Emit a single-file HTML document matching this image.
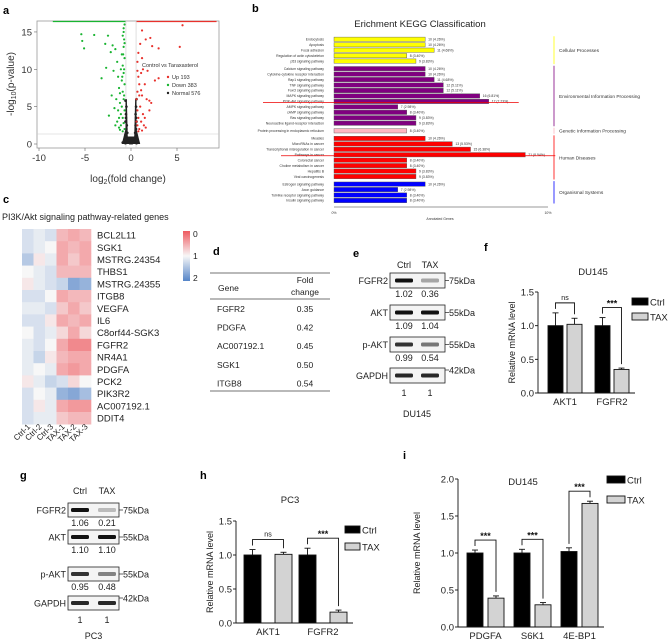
<!DOCTYPE html>
<html><head><meta charset="utf-8">
<style>
html,body{margin:0;padding:0;background:#fff}
svg{display:block;font-family:"Liberation Sans",Arial,sans-serif}
</style></head>
<body>
<svg id="fig" width="668" height="642" viewBox="0 0 668 642" xmlns="http://www.w3.org/2000/svg">
<g id="pa">
<text x="3" y="14" font-size="11" font-weight="bold">a</text>
<rect x="37" y="21" width="182" height="127" fill="none" stroke="#999" stroke-width="0.8"/>
<text transform="translate(14,84) rotate(-90)" text-anchor="middle" font-size="10" fill="#333">-log<tspan font-size="7" dy="2">10</tspan><tspan dy="-2">(p-value)</tspan></text>
<text x="128" y="182" text-anchor="middle" font-size="10" fill="#333">log<tspan font-size="7" dy="2">2</tspan><tspan dy="-2">(fold change)</tspan></text>
<text x="142" y="67" font-size="5.5" fill="#333">Control vs Taraxasterol</text>
<circle cx="168" cy="77" r="1.2" fill="#e8312c"/>
<text x="172" y="79" font-size="5.5" fill="#333">Up 193</text>
<circle cx="168" cy="85" r="1.2" fill="#19b431"/>
<text x="172" y="87" font-size="5.5" fill="#333">Down 383</text>
<circle cx="168" cy="93" r="1.2" fill="#222"/>
<text x="172" y="95" font-size="5.5" fill="#333">Normal 576</text>
</g>
<g id="pb">
<text x="252" y="12" font-size="11" font-weight="bold">b</text>
<text x="420" y="27" text-anchor="middle" font-size="9.5" fill="#222">Erichment KEGG Classification</text>
<text x="440" y="220" text-anchor="middle" font-size="3.5" fill="#333">Annotated Genes</text>
</g>
<g id="pc">
<text x="3" y="203" font-size="11" font-weight="bold">c</text>
<text x="2" y="220" font-size="9" fill="#222">PI3K/Akt signaling pathway-related genes</text>
<defs><linearGradient id="cbg" x1="0" y1="0" x2="0" y2="1"><stop offset="0" stop-color="#ee5a60"/><stop offset="0.5" stop-color="#f7f7f7"/><stop offset="1" stop-color="#5585c8"/></linearGradient></defs>
<rect x="183" y="231" width="7" height="50" fill="url(#cbg)"/>
<text x="193" y="237" font-size="8.5" fill="#222">0</text>
<text x="193" y="259" font-size="8.5" fill="#222">1</text>
<text x="193" y="281" font-size="8.5" fill="#222">2</text>
</g>
<g id="pd">
<text x="213" y="255" font-size="11" font-weight="bold">d</text>
<line x1="210" y1="273" x2="330" y2="273" stroke="#444" stroke-width="0.8"/>
<line x1="210" y1="299" x2="330" y2="299" stroke="#444" stroke-width="0.8"/>
<line x1="210" y1="391" x2="330" y2="391" stroke="#444" stroke-width="0.8"/>
<text x="218" y="291" font-size="8.5" fill="#222">Gene</text>
<text x="305" y="283" text-anchor="middle" font-size="8.5" fill="#222">Fold</text>
<text x="305" y="295" text-anchor="middle" font-size="8.5" fill="#222">change</text>
</g>
<g id="pe"><text x="353" y="257" font-size="11" font-weight="bold">e</text></g>
<g id="pf"><text x="484" y="251" font-size="11" font-weight="bold">f</text></g>
<g id="pg"><text x="20" y="479" font-size="11" font-weight="bold">g</text></g>
<g id="ph"><text x="200" y="479" font-size="11" font-weight="bold">h</text></g>
<g id="pi"><text x="403" y="459" font-size="11" font-weight="bold">i</text></g>
</svg>
<script>
// ---------- data ----------
const volcanoDown = [[-5.4,14.7],[-5.3,13.8],[-5.1,12.8],[-4,14.6],[-2.5,14.5],[-2.8,13.4],[-2.2,12.3],[-2,13.2],[-1.7,12.7],[-3.2,8.8],[-2.7,10.2],[-1.9,9.8],[-2.1,6.5],[-1.8,4.8],[-2.4,3.8],[-1.5,11],[-1.4,9],[-1.3,7.5],[-1.2,5.5],[-1.1,4],[-1.5,3],[-1.6,6],[-1.3,2.2],[-1,12],[-0.9,14.5],[-0.8,15.5],[-0.7,16],[-0.8,13],[-0.7,11.5],[-0.9,10.5],[-0.8,9.5],[-1,8.5],[-0.7,8],[-0.9,7],[-0.8,6],[-1,5],[-0.7,4.5],[-0.9,3.5],[-0.8,2.8],[-1.1,2.5],[-0.7,2],[-1.2,1.9],[-0.9,1.7],[-1.4,4.5],[-1.2,6.8],[-1.1,10],[-0.75,14],[-0.85,12],[-0.75,10],[-0.95,9],[-0.75,6.5],[-1.3,3.5],[-1.7,2.5],[-0.8,15],[-0.7,13.5]];
const volcanoUp = [[5.6,15.9],[5.3,13],[1.2,15.2],[1.6,14],[2.1,14.2],[2.3,13.1],[3,12.8],[1,13.4],[0.8,12.2],[1.2,11.5],[0.7,11],[1.3,10],[1.1,9.5],[0.8,9],[1.8,9.8],[2.6,8.5],[3,8.8],[1.5,8],[0.9,8],[0.7,7],[1.2,6.5],[1.7,6],[2,5.8],[2.2,5.5],[1,5],[0.7,4.5],[1.3,4],[1.5,3.5],[0.8,3.5],[1.1,3],[0.7,2.5],[1.4,2.5],[0.9,2],[1.2,1.8],[0.6,6],[0.6,3],[1.6,2.2],[2,4.5],[0.8,1.7],[0.7,9.8],[0.9,6.5],[1.1,7.2]];
const volcanoNormal = [[-0.6,5.8],[-0.5,5],[-0.55,4],[-0.6,3],[-0.5,2],[-0.6,1.2],[-0.4,0.8],[-0.3,0.5],[-0.5,0.3],[-0.7,0.6],[-0.8,0.3],[-0.2,0.2],[0.2,0.2],[0.4,0.6],[0.5,1],[0.55,2],[0.6,3],[0.5,4],[0.55,5],[0.6,6],[0.7,0.4],[0.8,0.2],[-0.9,0.2],[0.3,0.3],[-0.4,1.5],[0.45,1.5],[-0.1,0.1],[0.1,0.1],[-0.6,0.1],[0.6,0.1],[-0.45,2.5],[0.5,2.5],[-0.55,3.5],[0.55,3.5]];
const volcanoXTicks = [-10,-5,0,5];
const volcanoYTicks = [0,5,10,15];

const keggTerms = ["Endocytosis","Apoptosis","Focal adhesion","Regulation of actin cytoskeleton","p53 signaling pathway","Calcium signaling pathway","Cytokine-cytokine receptor interaction","Rap1 signaling pathway","TNF signaling pathway","FoxO signaling pathway","MAPK signaling pathway","PI3K-Akt signaling pathway","AMPK signaling pathway","cAMP signaling pathway","Ras signaling pathway","Neuroactive ligand-receptor interaction","Protein processing in endoplasmic reticulum","Measles","MicroRNAs in cancer","Transcriptional misregulation in cancer","Pathways in cancer","Colorectal cancer","Choline metabolism in cancer","Hepatitis B","Viral carcinogenesis","Estrogen signaling pathway","Axon guidance","Toll-like receptor signaling pathway","Insulin signaling pathway"];
const keggCounts = [10,10,11,8,9,10,10,11,12,12,16,17,7,8,9,9,8,10,13,15,21,8,8,9,9,10,7,8,8];
const keggPercents = [4.26,4.26,4.68,3.40,3.83,4.26,4.26,4.68,5.11,5.11,6.81,7.23,2.98,3.40,3.83,3.83,3.40,4.26,5.53,6.38,8.94,3.40,3.40,3.83,3.83,4.26,2.98,3.40,3.40];
const keggGroupOf = [0,0,0,0,0,1,1,1,1,1,1,1,1,1,1,1,2,3,3,3,3,3,3,3,3,4,4,4,4];
const keggGroups = ["Cellular Processes","Environmental Information Processing","Genetic Information Processing","Human Diseases","Organismal Systems"];
const keggColors = ["#ffff00","#800080","#ffb6c1","#ff0000","#0000ff"];
const keggHighlighted = ["PI3K-Akt signaling pathway","Pathways in cancer"];

const heatGenes = ["BCL2L11","SGK1","MSTRG.24354","THBS1","MSTRG.24355","ITGB8","VEGFA","IL6","C8orf44-SGK3","FGFR2","NR4A1","PDGFA","PCK2","PIK3R2","AC007192.1","DDIT4"];
const heatSamples = ["Ctrl-1","Ctrl-2","Ctrl-3","TAX-1","TAX-2","TAX-3"];
const heatValues = [
[1.2,1.1,1.2,0.6,0.5,0.6],[1.2,1.1,1.0,0.5,0.6,0.5],[1.4,0.9,1.1,0.5,0.7,0.5],[1.0,1.1,1.2,0.6,0.6,0.6],
[0.9,1.1,1.2,1.3,1.7,1.6],[1.2,1.2,1.0,0.5,0.6,0.6],[1.1,1.1,1.2,0.7,0.5,0.7],[1.2,1.2,0.9,0.5,0.6,0.5],
[1.0,1.2,1.1,0.8,0.5,0.8],[1.1,1.2,1.0,0.5,0.3,0.3],[1.1,1.3,0.9,0.6,0.5,0.5],[1.1,1.0,1.1,0.5,0.4,0.5],
[0.9,1.1,1.3,1.2,0.8,1.0],[1.2,1.0,1.1,1.6,1.7,1.5],[1.2,0.9,1.1,0.5,0.4,0.4],[1.2,1.1,1.1,0.7,0.6,0.6]];

const tableGenes = ["FGFR2","PDGFA","AC007192.1","SGK1","ITGB8"];
const tableFold = ["0.35","0.42","0.45","0.50","0.54"];

const blotProteins = ["FGFR2","AKT","p-AKT","GAPDH"];
const blotMarkers = ["75kDa","55kDa","55kDa","42kDa"];
const blotE = [["1.02","0.36"],["1.09","1.04"],["0.99","0.54"],["1","1"]];
const blotEIntensity = [[1,0.35],[1,1],[0.85,0.55],[0.9,0.9]];
const blotG = [["1.06","0.21"],["1.10","1.10"],["0.95","0.48"],["1","1"]];
const blotGIntensity = [[1,0.25],[1,1],[0.85,0.5],[0.9,0.9]];

const fCats = ["AKT1","FGFR2"];
const fCtrl = [1.0,1.0], fCtrlErr = [0.19,0.12];
const fTax = [1.02,0.35], fTaxErr = [0.09,0.02];
const fSig = ["ns","***"];
const fTicks = [0,0.5,1.0,1.5];

const hCats = ["AKT1","FGFR2"];
const hCtrl = [1.0,1.0], hCtrlErr = [0.08,0.1];
const hTax = [1.01,0.16], hTaxErr = [0.03,0.03];
const hSig = ["ns","***"];
const hTicks = [0,0.5,1.0,1.5];

const iCats = ["PDGFA","S6K1","4E-BP1"];
const iCtrl = [1.0,1.0,1.02], iCtrlErr = [0.04,0.05,0.05];
const iTax = [0.39,0.3,1.67], iTaxErr = [0.03,0.03,0.03];
const iSig = ["***","***","***"];
const iTicks = [0,0.5,1.0,1.5,2.0];

// ---------- helpers ----------
const NS="http://www.w3.org/2000/svg";
function mk(parent,tag,attrs,txt){const e=document.createElementNS(NS,tag);for(const k in attrs)e.setAttribute(k,attrs[k]);if(txt!==undefined)e.textContent=txt;parent.appendChild(e);return e;}

// ---------- a: volcano ----------
(function(){
 const g=document.getElementById('pa');
 const sx=v=>131+v*9.2, sy=v=>144-v*7.47;
 let e;
 e=mk(g,'line',{x1:sx(-0.55),y1:21,x2:sx(-0.55),y2:148,stroke:'#ccc','stroke-width':0.6});
 
 e=mk(g,'line',{x1:sx(0.55),y1:21,x2:sx(0.55),y2:148,stroke:'#ccc','stroke-width':0.6});
 
 e=mk(g,'line',{x1:37,y1:134,x2:219,y2:134,stroke:'#ccc','stroke-width':0.6});
 
 e=mk(g,'line',{x1:sx(-8.5),y1:21.5,x2:sx(-0.6),y2:21.5,stroke:'#19b431','stroke-width':1.2});
 
 e=mk(g,'line',{x1:sx(0.6),y1:21.5,x2:sx(9.3),y2:21.5,stroke:'#e8312c','stroke-width':1.2});
 
 e=mk(g,'path',{d:`M${sx(-1)},${sy(0)} L${sx(-0.6)},${sy(2)} L${sx(-0.6)},${sy(6)} L${sx(-0.45)},${sy(6)} L${sx(-0.35)},${sy(1)} L${sx(0.35)},${sy(1)} L${sx(0.45)},${sy(6)} L${sx(0.6)},${sy(6)} L${sx(0.6)},${sy(2)} L${sx(1)},${sy(0)} Z`,fill:'#222'});
 
 volcanoNormal.forEach(p=>{const c=mk(g,'circle',{cx:sx(p[0]),cy:sy(p[1]),r:1.3,fill:'#222'});
  });
 volcanoDown.forEach(p=>{const c=mk(g,'circle',{cx:sx(p[0]),cy:sy(p[1]),r:1.1,fill:'#19b431'});
  });
 volcanoUp.forEach(p=>{const c=mk(g,'circle',{cx:sx(p[0]),cy:sy(p[1]),r:1.1,fill:'#e8312c'});
  });
 volcanoXTicks.forEach(t=>{const x=sx(t);e=mk(g,'line',{x1:x,y1:148,x2:x,y2:151,stroke:'#666','stroke-width':0.6});
  
  e=mk(g,'text',{x:x,y:161,'text-anchor':'middle','font-size':9.5,fill:'#333'},t);
  });
 volcanoYTicks.forEach(t=>{const y=sy(t);e=mk(g,'line',{x1:34,y1:y,x2:37,y2:y,stroke:'#666','stroke-width':0.6});
  
  e=mk(g,'text',{x:32,y:y+3.5,'text-anchor':'end','font-size':9.5,fill:'#333'},t);
  });
})();

// ---------- b: KEGG ----------
(function(){
 const g=document.getElementById('pb');
 const sx=v=>334+v*21.4;
 const ys=[];let y=39.3,prev=0;
 keggTerms.forEach((t,i)=>{ if(i>0){ y+= (keggGroupOf[i]!==prev)?7.6:5.45; } ys.push(y); prev=keggGroupOf[i]; });
 let e;
 keggTerms.forEach((t,i)=>{
  const yy=ys[i];
  e=mk(g,'rect',{x:334,y:yy-2.2,width:sx(keggPercents[i])-334,height:4.4,fill:keggColors[keggGroupOf[i]],stroke:'#555','stroke-width':0.4});
  
  e=mk(g,'text',{x:324,y:yy+1.2,'text-anchor':'end','font-size':3.4,fill:'#333'},t);
  
  e=mk(g,'text',{x:sx(keggPercents[i])+3,y:yy+1.2,'font-size':3.4,fill:'#333'},keggCounts[i]+' ('+keggPercents[i].toFixed(2)+'%)');
  
  if(keggHighlighted.includes(t)){
   const x1 = t==="Pathways in cancer"?281:263;
   e=mk(g,'line',{x1:x1,y1:yy+1,x2:sx(keggPercents[i])+30,y2:yy+1,stroke:'#e00','stroke-width':0.7});
   
  }
 });
 keggGroups.forEach((name,gi)=>{
  const idx=keggGroupOf.map((v,i)=>v===gi?i:-1).filter(i=>i>=0);
  const y0=ys[idx[0]]-3, y1=ys[idx[idx.length-1]]+3;
  e=mk(g,'line',{x1:554,y1:y0,x2:554,y2:y1,stroke:keggColors[gi],'stroke-width':0.8});
  
  e=mk(g,'text',{x:559,y:(y0+y1)/2+1.8,'font-size':4.8,fill:'#333'},name);
  
 });
 e=mk(g,'line',{x1:334,y1:207,x2:548,y2:207,stroke:'#333','stroke-width':0.6});
 
 [0,10].forEach(t=>{e=mk(g,'text',{x:sx(t),y:214,'text-anchor':'middle','font-size':3.5,fill:'#333'},t+'%');
  });
})();

// ---------- c: heatmap ----------
(function(){
 const g=document.getElementById('pc');
 const x0=22,cw=11.5,y0=229,rh=12.2;
 function col(v){
  const r=[238,90,96],w=[247,247,247],b=[85,133,200];
  let a,c,t; if(v<=1){a=r;c=w;t=v;}else{a=w;c=b;t=v-1;}
  t=Math.max(0,Math.min(1,t));
  return 'rgb('+a.map((q,i)=>Math.round(q+(c[i]-q)*t)).join(',')+')';
 }
 let e;
 heatValues.forEach((row,ri)=>{
  row.forEach((v,ci)=>{e=mk(g,'rect',{x:x0+ci*cw,y:y0+ri*rh,width:cw+0.3,height:rh+0.3,fill:col(v)});
   });
  e=mk(g,'text',{x:97,y:y0+ri*rh+rh/2+3.5,'font-size':9.5,fill:'#222'},heatGenes[ri]);
  
 });
 heatSamples.forEach((s,ci)=>{
  const x=x0+ci*cw+cw/2+3, y=y0+heatGenes.length*rh+3;
  e=mk(g,'text',{x:x,y:y,'text-anchor':'end','font-size':8,fill:'#222',transform:`rotate(-45 ${x} ${y})`},s);
  
 });
})();

// ---------- d: table ----------
(function(){
 const g=document.getElementById('pd');
 tableGenes.forEach((gn,i)=>{
  const y=312+i*18.6;
  let e=mk(g,'text',{x:217,y:y,'font-size':8.5,fill:'#222'},gn);
  
  e=mk(g,'text',{x:305,y:y,'text-anchor':'middle','font-size':8.5,fill:'#222'},tableFold[i]);
  
 });
})();

// ---------- blots ----------
function blot(gid,o,nums,ints,cell){
 const g=document.getElementById(gid);
 let e;
 e=mk(g,'text',{x:o.l1,y:o.top,'text-anchor':'middle','font-size':9,fill:'#222'},'Ctrl');
 
 e=mk(g,'text',{x:o.l2,y:o.top,'text-anchor':'middle','font-size':9,fill:'#222'},'TAX');
 
 blotProteins.forEach((p,i)=>{
  const by=o.boxY[i];
  e=mk(g,'rect',{x:o.bx,y:by,width:o.bw,height:o.bh,fill:'#f4f4f4',stroke:'#222','stroke-width':0.8});
  
  [o.l1,o.l2].forEach((lx,li)=>{const a=ints[i][li];
   e=mk(g,'rect',{x:lx-9,y:by+o.bh/2-2,width:18,height:4,rx:1.5,fill:'#111','fill-opacity':a});
   });
  e=mk(g,'text',{x:o.bx-2,y:by+o.bh/2+3.3,'text-anchor':'end','font-size':9,fill:'#222'},p);
  
  e=mk(g,'line',{x1:o.bx+o.bw,y1:by+(i==3?2:o.bh/2),x2:o.bx+o.bw+4,y2:by+(i==3?2:o.bh/2),stroke:'#222','stroke-width':0.7});
  
  e=mk(g,'text',{x:o.bx+o.bw+4,y:by+(i==3?2:o.bh/2)+3.3,'font-size':9,fill:'#222'},blotMarkers[i]);
  
  [o.l1,o.l2].forEach((lx,li)=>{
   e=mk(g,'text',{x:lx,y:by+o.bh+(i==3?13:9),'text-anchor':'middle','font-size':9,fill:'#222'},nums[i][li]);
   });
 });
 e=mk(g,'text',{x:(o.l1+o.l2)/2,y:o.cellY,'text-anchor':'middle','font-size':9,fill:'#222'},cell);
 
}
blot('pe',{l1:404,l2:430,top:268,bx:390,bw:55,bh:15,boxY:[273,305,337,368],cellY:417},blotE,blotEIntensity,'DU145');
blot('pg',{l1:80,l2:107,top:494,bx:68,bw:51,bh:14,boxY:[503,530,567,596],cellY:639},blotG,blotGIntensity,'PC3');

// ---------- bar charts ----------
function barChart(gid,o,cats,ctrl,ctrlE,tax,taxE,sig,ticks,ymax){
 const g=document.getElementById(gid);
 const sy=v=>o.y0-(v/ymax)*(o.y0-o.ytop);
 let e;
 e=mk(g,'line',{x1:o.ax,y1:sy(ymax),x2:o.ax,y2:o.y0,stroke:'#111','stroke-width':0.9});
 
 ticks.forEach(t=>{const y=sy(t);
  e=mk(g,'line',{x1:o.ax-3,y1:y,x2:o.ax,y2:y,stroke:'#111','stroke-width':0.9});
  
  e=mk(g,'text',{x:o.ax-4,y:y+3.5,'text-anchor':'end','font-size':9.5,fill:'#222'},t.toFixed(1));
  });
 e=mk(g,'text',{transform:`translate(${o.ylx},${(sy(ymax)+o.y0)/2}) rotate(-90)`,'text-anchor':'middle','font-size':9,fill:'#222'},'Relative mRNA level');
 
 cats.forEach((c,i)=>{
  const cx=o.x1+i*o.step, tx=cx+o.bw+o.gap;
  [[cx,ctrl[i],ctrlE[i],'#000','ctrl'],[tx,tax[i],taxE[i],'#d3d3d3','tax']].forEach(b=>{
   const top=sy(b[1]), et=sy(b[1]+b[2]), mid=b[0]+o.bw/2;
   e=mk(g,'line',{x1:mid,y1:top,x2:mid,y2:et,stroke:'#111','stroke-width':0.9});
   
   e=mk(g,'line',{x1:mid-3,y1:et,x2:mid+3,y2:et,stroke:'#111','stroke-width':0.9});
   
   e=mk(g,'rect',{x:b[0],y:top,width:o.bw,height:o.y0-top,fill:b[3],stroke:'#111','stroke-width':0.9});
   
  });
  const m1=cx+o.bw/2, m2=tx+o.bw/2;
  const top1=sy(ctrl[i]+ctrlE[i])-4, top2=sy(tax[i]+taxE[i])-4;
  const by=Math.min(top1,top2)-6;
  e=mk(g,'path',{d:`M${m1},${top1} V${by} H${m2} V${top2}`,fill:'none',stroke:'#111','stroke-width':0.9});
  
  e=mk(g,'text',{x:(m1+m2)/2,y:by-(sig[i]==='ns'?3:1),'text-anchor':'middle','font-size':sig[i]==='ns'?7:9,'font-weight':sig[i]==='ns'?'normal':'bold',fill:'#111'},sig[i]);
  
  e=mk(g,'text',{x:(cx+tx+o.bw)/2,y:o.y0+12,'text-anchor':'middle','font-size':9.5,fill:'#222'},c);
  
 });
 e=mk(g,'line',{x1:o.ax,y1:o.y0,x2:o.x1+cats.length*o.step-o.step+2*o.bw+o.gap+6,y2:o.y0,stroke:'#111','stroke-width':0.9});
 
 e=mk(g,'text',{x:o.tx,y:o.ty,'text-anchor':'middle','font-size':9.5,fill:'#222'},o.title);
 
 [['#000','Ctrl'],['#d3d3d3','TAX']].forEach((l,li)=>{
  const y=o.lgy+li*o.lgdy;
  e=mk(g,'rect',{x:o.lgx,y:y-4,width:o.lgw,height:7,fill:l[0],stroke:'#111','stroke-width':0.9});
  
  e=mk(g,'text',{x:o.lgx+o.lgw+2,y:y+3.5,'font-size':9.5,fill:'#222'},l[1]);
  
 });
}
barChart('pf',{ax:538,y0:393,ytop:292,x1:548,bw:15,gap:4,step:47,ylx:515,tx:593,ty:275,title:'DU145',lgx:632,lgy:302,lgdy:15,lgw:16},fCats,fCtrl,fCtrlErr,fTax,fTaxErr,fSig,fTicks,1.5);
barChart('ph',{ax:236,y0:623,ytop:521,x1:244,bw:17,gap:14,step:55,ylx:213,tx:290,ty:503,title:'PC3',lgx:345,lgy:530,lgdy:17,lgw:15},hCats,hCtrl,hCtrlErr,hTax,hTaxErr,hSig,hTicks,1.5);
barChart('pi',{ax:458,y0:627,ytop:479,x1:467,bw:16,gap:5,step:47,ylx:420,tx:523,ty:485,title:'DU145',lgx:607,lgy:480,lgdy:20,lgw:18},iCats,iCtrl,iCtrlErr,iTax,iTaxErr,iSig,iTicks,2.0);
</script>
</body></html>
